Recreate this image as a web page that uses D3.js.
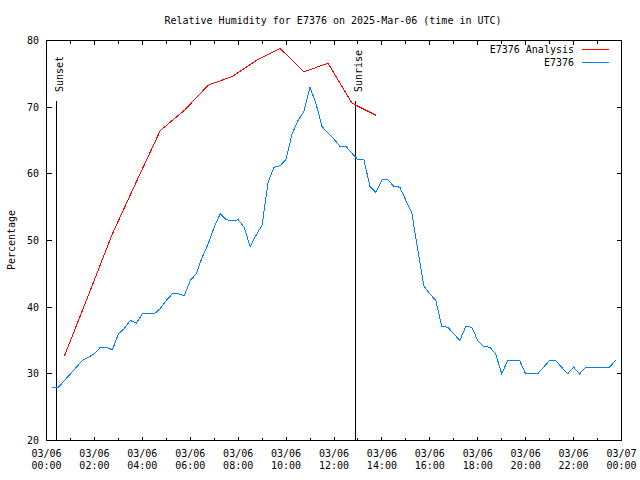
<!DOCTYPE html>
<html><head><meta charset="utf-8">
<script src="https://cdn.jsdelivr.net/npm/d3@7"></script>
<style>
html,body{margin:0;padding:0;background:#fff;}
svg{display:block;}
text{font-family:"DejaVu Sans Mono",monospace;font-size:10px;fill:#000;}
</style></head>
<body>
<svg id="chart" width="640" height="480"></svg>
<script>
// ---- data ----
const titleText = "Relative Humidity for E7376 on 2025-Mar-06 (time in UTC)";
const yLabel = "Percentage";
const seriesNames = ["E7376 Analysis", "E7376"];
const seriesColors = ["#ff0000", "#0080ff"];
const yTicks = [20, 30, 40, 50, 60, 70, 80];
const xTickHours = [0, 2, 4, 6, 8, 10, 12, 14, 16, 18, 20, 22, 24];

// Station observations: every 15 minutes starting 00:15 UTC
const obsStart = Date.UTC(2025, 2, 6, 0, 15);
const obsStepMin = 15;
const obsValues = [
  28, 28, 29, 30, 31, 32, 32.5, 33, 34, 34, 33.6, 36, 36.8, 38, 37.6, 39,
  39, 39, 39.8, 41, 42, 42, 41.7, 44, 45, 47.5, 49.5, 52, 54, 53.1, 53, 53.1,
  52, 49.1, 50.8, 52.3, 58.8, 61, 61.2, 62.2, 66, 68, 69.4, 73, 70.5, 67.1, 66.1, 65.2,
  64.1, 64.1, 63.1, 62.1, 62.1, 58.1, 57.2, 59.1, 59.1, 58.1, 58, 56, 54.1, 48.5, 43.2, 42,
  41, 37.1, 37, 36, 35, 37.1, 37, 35, 34.1, 34, 33, 30, 32, 32, 32, 30,
  30, 30, 31, 32, 32, 31, 30, 31, 30, 31, 31, 31, 31, 31, 32
];

// Analysis: hourly starting 00:45 UTC
const anaStart = Date.UTC(2025, 2, 6, 0, 45);
const anaStepMin = 60;
const anaValues = [32.7, 41.8, 51, 58.8, 66.5, 69.5, 73.3, 74.6, 77, 78.8, 75.3, 76.6, 70.6, 68.8];

// Sun events
const sunEvents = [
  {label: "Sunset",  time: Date.UTC(2025, 2, 6, 0, 26)},
  {label: "Sunrise", time: Date.UTC(2025, 2, 6, 12, 53)}
];
const sunLineTop = 71;

// ---- chart ----
const svg = d3.select("#chart");
const L = 46.5, R = 621.5, T = 40.5, B = 440.5;
const x = d3.scaleUtc()
  .domain([Date.UTC(2025, 2, 6, 0), Date.UTC(2025, 2, 7, 0)])
  .range([L, R]);
const y = d3.scaleLinear().domain([20, 80]).range([B, T]);

const obs = obsValues.map((v, i) => ({t: new Date(obsStart + i * obsStepMin * 60000), v}));
const ana = anaValues.map((v, i) => ({t: new Date(anaStart + i * anaStepMin * 60000), v}));

// title
svg.append("text").attr("x", 333).attr("y", 23.5).attr("text-anchor", "middle").text(titleText);

// y label
svg.append("text").attr("transform", "translate(15,240) rotate(-90)")
  .attr("text-anchor", "middle").text(yLabel);

const g = svg.append("g").attr("shape-rendering", "crispEdges");

// y ticks (left + mirrored right)
yTicks.forEach(v => {
  const yy = Math.round(y(v) - 0.5) + 0.5;
  g.append("line").attr("x1", L).attr("x2", L + 5).attr("y1", yy).attr("y2", yy).attr("stroke", "#000");
  g.append("line").attr("x1", R).attr("x2", R - 5).attr("y1", yy).attr("y2", yy).attr("stroke", "#000");
  svg.append("text").attr("x", 39).attr("y", yy + 3.5).attr("text-anchor", "end").text(v);
});

// x ticks every hour (major every 2h), mirrored on top
const fmtD = d3.utcFormat("%m/%d"), fmtT = d3.utcFormat("%H:%M");
for (let h = 0; h <= 24; h++) {
  const t = new Date(Date.UTC(2025, 2, 6, h));
  const xx = Math.round(x(t) - 0.5) + 0.5;
  const len = (h % 2 === 0) ? 4 : 3;
  g.append("line").attr("x1", xx).attr("x2", xx).attr("y1", B).attr("y2", B - len).attr("stroke", "#000");
  g.append("line").attr("x1", xx).attr("x2", xx).attr("y1", T).attr("y2", T + len).attr("stroke", "#000");
}
xTickHours.forEach(h => {
  const t = new Date(Date.UTC(2025, 2, 6, h));
  const xx = x(t);
  const tx = svg.append("text").attr("x", xx).attr("y", 457).attr("text-anchor", "middle");
  tx.append("tspan").attr("x", xx).text(fmtD(t));
  tx.append("tspan").attr("x", xx).attr("dy", 12).text(fmtT(t));
});

// border
g.append("rect").attr("x", L).attr("y", T).attr("width", R - L).attr("height", B - T)
  .attr("fill", "none").attr("stroke", "#000");

// sun lines
sunEvents.forEach(s => {
  const xx = Math.round(x(new Date(s.time)) - 0.5) + 0.5;
  g.append("line").attr("x1", xx).attr("x2", xx).attr("y1", B).attr("y2", y(sunLineTop))
    .attr("stroke", "#000");
  svg.append("text").attr("transform", `translate(${xx + 6},92) rotate(-90)`)
    .attr("text-anchor", "start").text(s.label);
});

// lines
const line = d3.line().x(d => x(d.t)).y(d => y(d.v));
g.append("path").datum(ana).attr("d", line).attr("fill", "none")
  .attr("stroke", seriesColors[0]).attr("stroke-width", 1);
g.append("path").datum(obs).attr("d", line).attr("fill", "none")
  .attr("stroke", seriesColors[1]).attr("stroke-width", 1);

// legend
seriesNames.forEach((n, i) => {
  const yy = 49.5 + i * 13;
  svg.append("text").attr("x", 574).attr("y", yy + 3.5).attr("text-anchor", "end").text(n);
  g.append("line").attr("x1", 582).attr("x2", 609).attr("y1", yy).attr("y2", yy)
    .attr("stroke", seriesColors[i]);
});
</script>
</body></html>
